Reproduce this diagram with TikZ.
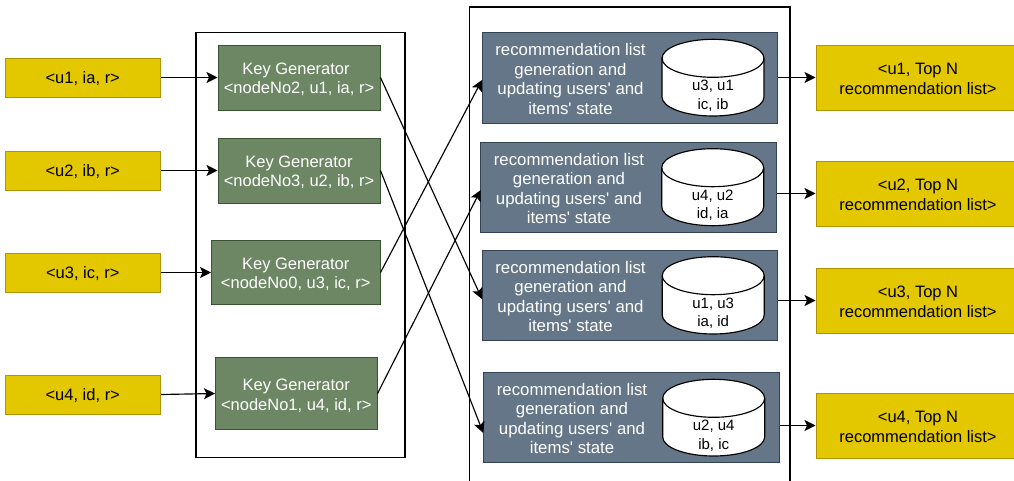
\documentclass[tikz,border=0pt]{standalone}
\usepackage{fontspec}
\setmainfont{Liberation Sans}
\newfontfamily\plainsans{Liberation Sans}
\usetikzlibrary{arrows.meta}
\newcommand{\lowerby}[1]{\rule{0pt}{#1}}
\tikzset{
  base/.style={draw,line width=1pt,inner sep=0pt,align=center,font=\plainsans\fontsize{16.5}{19.8}\selectfont},
  ybox/.style={base,fill=ycol,draw=yline,text=black},
  gbox/.style={base,fill=gcol,draw=gline,text=white},
  bbox/.style={draw=bline,line width=1pt,inner sep=0pt,fill=bcol},
  frame/.style={draw=black,line width=1.15pt,fill=white,inner sep=0pt},
  listtext/.style={align=center,inner sep=0pt,text=white,font=\plainsans\fontsize{16.8}{19.6}\selectfont},
  dbtext/.style={align=center,inner sep=0pt,text=black,font=\plainsans\fontsize{15}{18.6}\selectfont},
  cylst/.style={draw=black,line width=1.15pt,fill=white},
  conn/.style={draw=black,line width=1.15pt,-{Stealth[length=11pt,width=11pt,inset=2.5pt]}},
}
\definecolor{ycol}{HTML}{E3C800}
\definecolor{yline}{HTML}{B09500}
\definecolor{gcol}{HTML}{6D8764}
\definecolor{gline}{HTML}{3A5431}
\definecolor{bcol}{HTML}{647687}
\definecolor{bline}{HTML}{314354}
\newcommand{\dbcyl}[5]{% name, cx, top, text, height
  \begin{scope}[shift={(#2,#3)}]
    \path[cylst] (-51,19) -- (-51,#5-19) arc[start angle=180,end angle=360,x radius=51pt,y radius=19pt]
      -- (51,19) arc[start angle=0,end angle=180,x radius=51pt,y radius=19pt] -- cycle;
    \draw[line width=1.15pt] (-51,19) arc[start angle=180,end angle=360,x radius=51pt,y radius=19pt];
    \node[dbtext] (#1) at (0,56.5) {#4};
  \end{scope}}
\begin{document}
\begin{tikzpicture}[x=1pt,y=-1pt]
\useasboundingbox[fill=white] (0,0) rectangle (1014,480);
% containers
\node[frame,minimum width=209pt,minimum height=425pt] (c1) at (300.5,245) {};
\draw[line width=1.15pt,fill=white] (469.5,500) -- (469.5,7) -- (790,7) -- (790,500);
% inputs
\node[ybox,minimum width=155.5pt,minimum height=39pt] (i1) at (82.75,77.5) {\lowerby{14pt}<u1, ia, r>};
\node[ybox,minimum width=155.5pt,minimum height=39pt] (i2) at (82.75,170.5) {\lowerby{14pt}<u2, ib, r>};
\node[ybox,minimum width=155.5pt,minimum height=39pt] (i3) at (82.75,272.5) {\lowerby{14pt}<u3, ic, r>};
\node[ybox,minimum width=155.5pt,minimum height=39pt] (i4) at (82.75,394.5) {\lowerby{14pt}<u4, id, r>};
% key generators
\node[gbox,minimum width=162pt,minimum height=65pt] (k1) at (299,77.5) {\lowerby{15pt}Key Generator\kern6pt\\<nodeNo2, u1, ia, r>};
\node[gbox,minimum width=162pt,minimum height=65pt] (k2) at (299,170.5) {\lowerby{15pt}Key Generator\\<nodeNo3, u2, ib, r>};
\node[gbox,minimum width=168.5pt,minimum height=64.5pt] (k3) at (295.75,272.5) {\lowerby{15pt}Key Generator\\<nodeNo0, u3, ic, r>};
\node[gbox,minimum width=161.5pt,minimum height=72.5pt] (k4) at (296.25,393.5) {\lowerby{16pt}Key Generator\\<nodeNo1, u4, id, r>};
% list generators
\node[bbox,minimum width=295.5pt,minimum height=90.7pt] (b1) at (629.75,77.65) {};
\node[bbox,minimum width=295.5pt,minimum height=90.3pt] (b2) at (628.5,187.15) {};
\node[bbox,minimum width=295.5pt,minimum height=90.3pt] (b3) at (629.75,295.15) {};
\node[bbox,minimum width=295.5pt,minimum height=90.4pt] (b4) at (631.25,417.5) {};
\node[listtext] (t1) at (570.5,78.8) {recommendation list\\generation and\\updating users' and\\items' state};
\node[listtext] (t2) at (569,188.5) {recommendation list\\generation and\\updating users' and\\items' state};
\node[listtext] (t3) at (570.5,296.5) {recommendation list\\generation and\\updating users' and\\items' state};
\node[listtext] (t4) at (572,418.5) {recommendation list\\generation and\\updating users' and\\items' state};
\dbcyl{d1}{713}{39.3}{u3, u1\\ic, ib}{76.7}
\dbcyl{d2}{712.7}{148.7}{u4, u2\\id, ia}{77}
\dbcyl{d3}{713.2}{256.7}{u1, u3\\ia, id}{77.3}
\dbcyl{d4}{713.7}{379.3}{u2, u4\\ib, ic}{76.7}
% outputs (they run past the right edge of the page)
\node[ybox,minimum width=204pt,minimum height=65pt] (o1) at (918,77.5) {\lowerby{14pt}<u1, Top N\\recommendation list>};
\node[ybox,minimum width=204pt,minimum height=65pt] (o2) at (918,193.5) {\lowerby{14pt}<u2, Top N\\recommendation list>};
\node[ybox,minimum width=204pt,minimum height=65pt] (o3) at (918,300.5) {\lowerby{14pt}<u3, Top N\\recommendation list>};
\node[ybox,minimum width=204pt,minimum height=65pt] (o4) at (918,425.5) {\lowerby{14pt}<u4, Top N\\recommendation list>};
% connector ends on the list boxes
\coordinate (e1) at (482,80);
\coordinate (e2) at (480.7,190);
\coordinate (e3) at (482,299);
\coordinate (e4) at (483.3,433);
\coordinate (r1) at (b1.east |- o1.west);
\coordinate (r2) at (b2.east |- o2.west);
\coordinate (r3) at (b3.east |- o3.west);
\coordinate (r4) at (b4.east |- o4.west);
% connectors
\draw[conn] (i1.east) -- (k1.west);
\draw[conn] (i2.east) -- (k2.west);
\draw[conn] (i3.east) -- (k3.west);
\draw[conn] (i4.east) -- (k4.west);
\draw[conn] (k1.east) -- (e3);
\draw[conn] (k2.east) -- (e4);
\draw[conn] (k3.east) -- (e1);
\draw[conn] (k4.east) -- (e2);
\draw[conn] (r1) -- (o1.west);
\draw[conn] (r2) -- (o2.west);
\draw[conn] (r3) -- (o3.west);
\draw[conn] (r4) -- (o4.west);
\end{tikzpicture}
\end{document}
